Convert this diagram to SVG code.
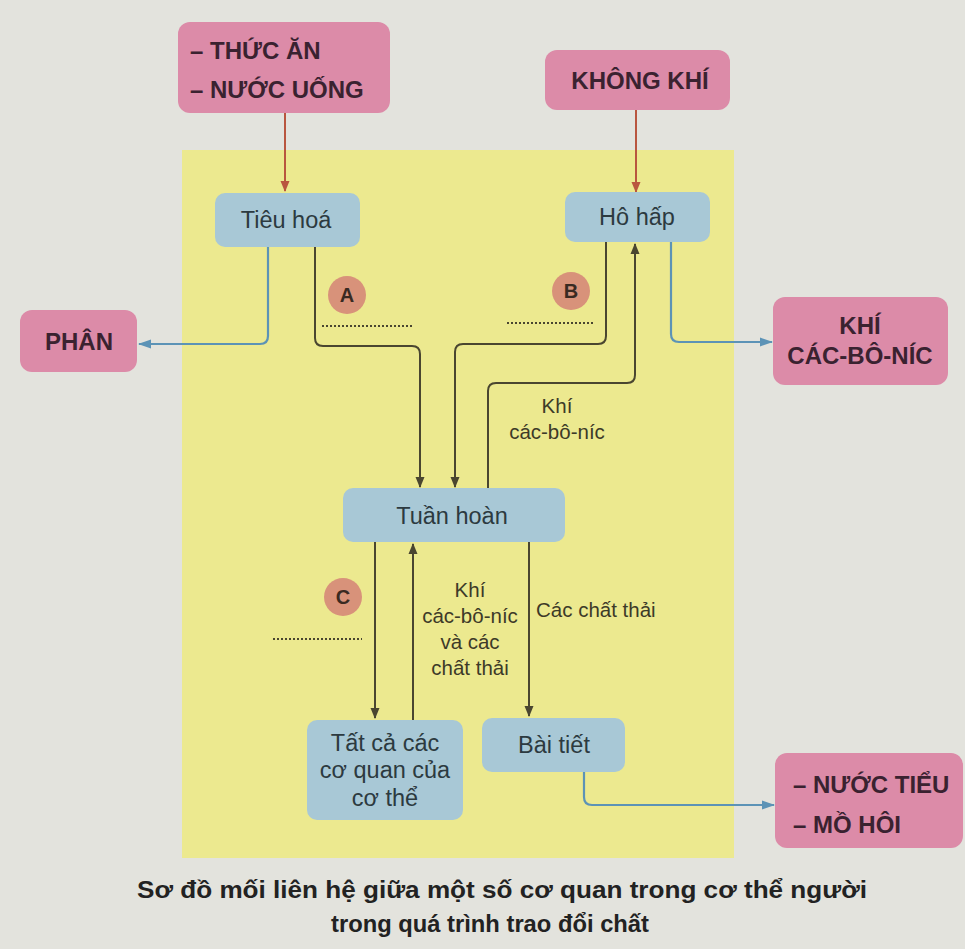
<svg xmlns="http://www.w3.org/2000/svg" width="965" height="949" viewBox="0 0 965 949">
<defs>
<style>
.pink{fill:#dc8ba8;}
.blue{fill:#a8c8d6;}
.pt{font-family:"Liberation Sans",Arial,sans-serif;font-weight:bold;font-size:24px;fill:#3a2230;}
.bt{font-family:"Liberation Sans",Arial,sans-serif;font-size:23.5px;fill:#2c3a40;}
.lb{font-family:"Liberation Sans",Arial,sans-serif;font-size:20.5px;fill:#3d3a28;}
.cap{font-family:"Liberation Sans",Arial,sans-serif;font-weight:bold;font-size:23px;fill:#222;}
.dk{fill:none;stroke:#4a4630;stroke-width:2;}
.rd{fill:none;stroke:#b9563f;stroke-width:2;}
.bl{fill:none;stroke:#5c93b6;stroke-width:2.2;}
.dot{stroke:#4a4630;stroke-width:2;stroke-dasharray:2 2;}
.circ{fill:#d8927a;}
.ct{font-family:"Liberation Sans",Arial,sans-serif;font-weight:bold;font-size:20px;fill:#3a2a22;}
</style>
<marker id="ad" markerWidth="11" markerHeight="10" refX="10" refY="5" orient="auto" markerUnits="userSpaceOnUse"><path d="M0,0.5 L11,5 L0,9.5 Z" fill="#4a4630"/></marker>
<marker id="ar" markerWidth="11" markerHeight="10" refX="10" refY="5" orient="auto" markerUnits="userSpaceOnUse"><path d="M0,0.5 L11,5 L0,9.5 Z" fill="#b9563f"/></marker>
<marker id="ab" markerWidth="13" markerHeight="10" refX="12" refY="5" orient="auto" markerUnits="userSpaceOnUse"><path d="M0,0.5 L13,5 L0,9.5 Z" fill="#5c93b6"/></marker>
</defs>
<rect x="0" y="0" width="965" height="949" fill="#e3e3dd"/>
<rect x="182" y="150" width="552" height="708" fill="#ece98f"/>

<g id="connectors">
<path class="rd" d="M285,113 V191" marker-end="url(#ar)"/>
<path class="rd" d="M636,110 V192" marker-end="url(#ar)"/>
<path class="bl" d="M268,247 V336 Q268,344 260,344 H139" marker-end="url(#ab)"/>
<path class="dk" d="M315,247 V338 Q315,346 323,346 H412 Q420,346 420,354 V487" marker-end="url(#ad)"/>
<path class="dk" d="M606,242 V336 Q606,344 598,344 H463 Q455,344 455,352 V487" marker-end="url(#ad)"/>
<path class="dk" d="M488,488 V391 Q488,383 496,383 H627 Q635,383 635,375 V244" marker-end="url(#ad)"/>
<path class="bl" d="M671,242 V334 Q671,342 679,342 H772" marker-end="url(#ab)"/>
<path class="dk" d="M375,542 V718" marker-end="url(#ad)"/>
<path class="dk" d="M413,720 V544" marker-end="url(#ad)"/>
<path class="dk" d="M529,542 V716" marker-end="url(#ad)"/>
<path class="bl" d="M584,772 V797 Q584,805 592,805 H774" marker-end="url(#ab)"/>
<line class="dot" x1="322" y1="326" x2="412" y2="326"/>
<line class="dot" x1="507" y1="323" x2="595" y2="323"/>
<line class="dot" x1="273" y1="639" x2="362" y2="639"/>
</g>

<g id="node-thucan"><rect class="pink" x="178" y="22" width="212" height="91" rx="12"/>
<text class="pt" x="190" y="59">– THỨC ĂN</text><text class="pt" x="190" y="98">– NƯỚC UỐNG</text></g>
<g id="node-khongkhi"><rect class="pink" x="545" y="50" width="185" height="60" rx="12"/>
<text class="pt" x="640" y="89" text-anchor="middle">KHÔNG KHÍ</text></g>
<g id="node-tieuhoa"><rect class="blue" x="215" y="193" width="145" height="54" rx="10"/>
<text class="bt" x="286" y="228" text-anchor="middle">Tiêu hoá</text></g>
<g id="node-hohap"><rect class="blue" x="565" y="192" width="145" height="50" rx="10"/>
<text class="bt" x="637" y="225" text-anchor="middle">Hô hấp</text></g>
<g id="node-phan"><rect class="pink" x="20" y="310" width="117" height="62" rx="12"/>
<text class="pt" x="79" y="350" text-anchor="middle">PHÂN</text></g>
<g id="node-khicbn"><rect class="pink" x="773" y="297" width="175" height="88" rx="12"/>
<text class="pt" x="860" y="334" text-anchor="middle">KHÍ</text><text class="pt" x="860" y="364" text-anchor="middle">CÁC-BÔ-NÍC</text></g>
<g id="node-A"><circle class="circ" cx="347" cy="295" r="19"/><text class="ct" x="347" y="302" text-anchor="middle">A</text></g>
<g id="node-B"><circle class="circ" cx="571" cy="291" r="19"/><text class="ct" x="571" y="298" text-anchor="middle">B</text></g>
<g id="node-C"><circle class="circ" cx="343" cy="597" r="19"/><text class="ct" x="343" y="604" text-anchor="middle">C</text></g>
<g id="label-khi1"><text class="lb" x="557" y="413" text-anchor="middle">Khí</text><text class="lb" x="557" y="439" text-anchor="middle">các-bô-níc</text></g>
<g id="node-tuanhoan"><rect class="blue" x="343" y="488" width="222" height="54" rx="10"/>
<text class="bt" x="452" y="524" text-anchor="middle">Tuần hoàn</text></g>
<g id="label-khi2"><text class="lb" x="470" y="597" text-anchor="middle">Khí</text><text class="lb" x="470" y="623" text-anchor="middle">các-bô-níc</text><text class="lb" x="470" y="649" text-anchor="middle">và các</text><text class="lb" x="470" y="675" text-anchor="middle">chất thải</text></g>
<g id="label-chatthai"><text class="lb" x="536" y="617">Các chất thải</text></g>
<g id="node-tatca"><rect class="blue" x="307" y="720" width="156" height="100" rx="10"/>
<text class="bt" x="385" y="751" text-anchor="middle">Tất cả các</text><text class="bt" x="385" y="778" text-anchor="middle">cơ quan của</text><text class="bt" x="385" y="806" text-anchor="middle">cơ thể</text></g>
<g id="node-baitiet"><rect class="blue" x="482" y="718" width="143" height="54" rx="10"/>
<text class="bt" x="554" y="753" text-anchor="middle">Bài tiết</text></g>
<g id="node-nuoctieu"><rect class="pink" x="775" y="753" width="188" height="95" rx="12"/>
<text class="pt" x="793" y="793">– NƯỚC TIỂU</text><text class="pt" x="793" y="833">– MỒ HÔI</text></g>
<g id="caption"><text class="cap" x="502" y="898" text-anchor="middle" textLength="730" lengthAdjust="spacingAndGlyphs">Sơ đồ mối liên hệ giữa một số cơ quan trong cơ thể người</text>
<text class="cap" x="490" y="932" text-anchor="middle" textLength="318" lengthAdjust="spacingAndGlyphs">trong quá trình trao đổi chất</text></g>
</svg>
